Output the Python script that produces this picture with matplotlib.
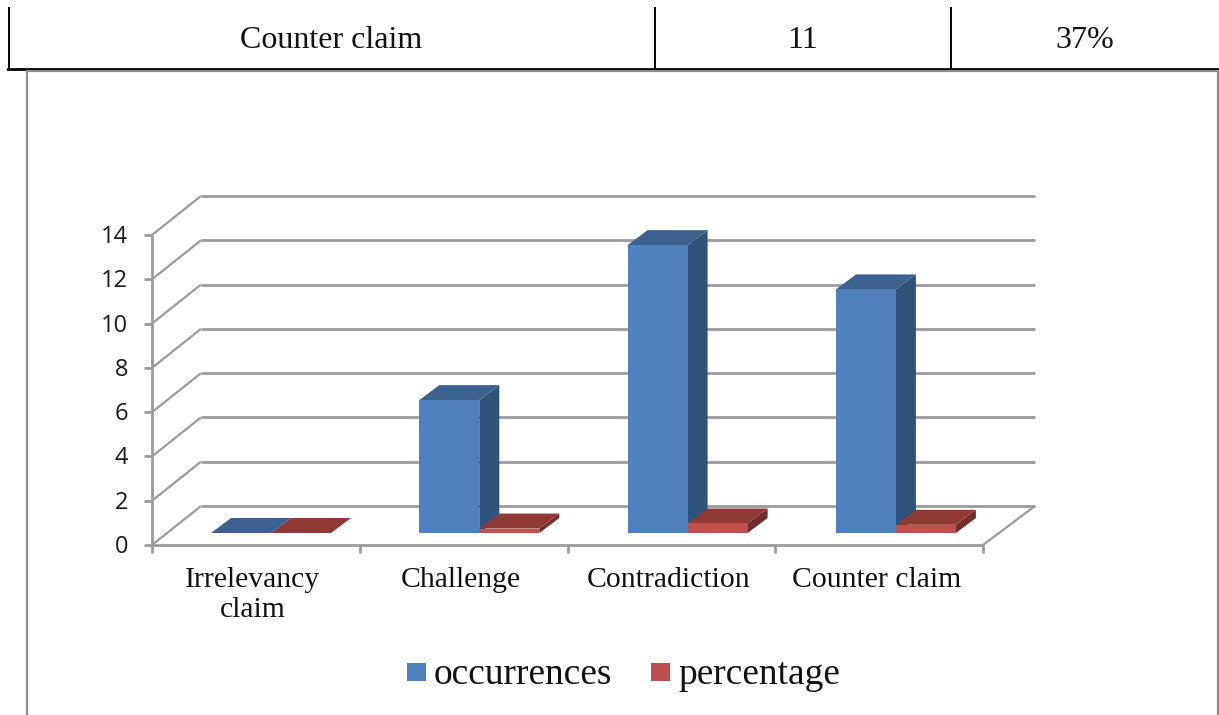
import matplotlib
matplotlib.use("Agg")
import matplotlib.pyplot as plt
from matplotlib.patches import Polygon, Rectangle

categories = ["Irrelevancy\nclaim", "Challenge", "Contradiction", "Counter claim"]
occurrences = [0, 6, 13, 11]
percentage = [0, 0.20, 0.43, 0.37]
y_ticks = [0, 2, 4, 6, 8, 10, 12, 14]
table_cells = ["Counter claim", "11", "37%"]
series_names = ["occurrences", "percentage"]

W, H = 1219, 715
fig = plt.figure(figsize=(W / 100, H / 100), dpi=100, facecolor="white")

# Overlay axes in pixel coordinates for the page furniture
page = fig.add_axes([0, 0, 1, 1])
page.set_xlim(0, W)
page.set_ylim(H, 0)
page.axis("off")

black = "#000000"
page.plot([8, 1219], [68.5, 68.5], color=black, lw=2.0)
for xv in (8.5, 655, 951):
    page.plot([xv, xv], [8, 68.5], color=black, lw=1.4)
for txt, xc in zip(table_cells, (331, 803, 1085)):
    page.text(xc, 40, txt, ha="center", va="center", fontsize=23,
              family="Liberation Serif", color="#111111")

frame = "#8c8c8c"
page.plot([26.5, 26.5], [715, 71], color=frame, lw=1.6)
page.plot([26.5, 1218], [71, 71], color=frame, lw=1.6)
page.plot([1218, 1218], [71, 715], color=frame, lw=1.6)

# Chart axes: x in category units, y in value units
ax = fig.add_axes([152 / W, 1 - 545 / H, (983 - 152) / W, (545 - 235) / H])
ax.set_xlim(0, 4)
ax.set_ylim(0, 14)
ax.axis("off")
ax.patch.set_alpha(0)

ux = 207.75          # pixels per category
uy = 310 / 14        # pixels per value unit


def dx(px):
    return px / ux


def dy(px):
    return px / uy


grid = "#9b9b9b"
kw = dict(color=grid, lw=2.0, clip_on=False, solid_capstyle="butt", zorder=1)
back_x, back_y = dx(49), dy(39)
for v in y_ticks:
    ax.plot([0, back_x], [v, v + back_y], **{**kw, "lw": 1.6})
    ax.plot([back_x, 4 + dx(52)], [v + back_y, v + back_y], **kw)
    ax.plot([-dx(8), 0], [v, v], **kw)
    ax.text(-dx(24), v - dy(2), str(v), ha="right", va="center",
            fontsize=17, family="Open Sans", color="#1a1a1a", clip_on=False)
ax.plot([0, 0], [0, 14], **kw)
ax.plot([0, 4], [0, 0], **kw)
ax.plot([4, 4 + dx(52)], [0, back_y], **{**kw, "lw": 1.6})
for i in range(5):
    ax.plot([i, i], [0, -dy(8)], **kw)

for i, cat in enumerate(categories):
    ax.text(i + 0.5 - dx(3), -dy(22), cat, ha="center", va="top", fontsize=21.4,
            family="Liberation Serif", color="#111111", linespacing=1.22, clip_on=False)

bar_w = dx(60)
depth_x, depth_y = dx(20), dy(15)
base = dy(12)
first = dx(59)
step = dx(208.3)


def draw_bar(x0, v, front, top, side, z):
    x1 = x0 + bar_w
    y0, y1 = base, base + v
    ax.add_patch(Polygon([(x1, y0), (x1 + depth_x, y0 + depth_y),
                          (x1 + depth_x, y1 + depth_y), (x1, y1)],
                         closed=True, fc=side, ec="none", zorder=z, clip_on=False))
    ax.add_patch(Polygon([(x0, y1), (x0 + depth_x, y1 + depth_y),
                          (x1 + depth_x, y1 + depth_y), (x1, y1)],
                         closed=True, fc=top, ec="none", zorder=z, clip_on=False))
    ax.bar(x0, v, width=bar_w, bottom=base, align="edge", color=front,
           zorder=z + 0.1, clip_on=False)


for i, (occ, pct) in enumerate(zip(occurrences, percentage)):
    x0 = first + i * step
    draw_bar(x0, occ, "#4f81bd", "#3c618e", "#315279", 3 + i)
    draw_bar(x0 + bar_w, pct, "#c0504d", "#8f3836", "#6f2c2a", 3.5 + i)

# Legend
for xl, col, name, xt in zip((407, 651), ("#4f81bd", "#c0504d"), series_names, (434, 678)):
    page.add_patch(Rectangle((xl, 663), 19, 18, fc=col, ec="none"))
    page.text(xt, 675, name, ha="left", va="center", fontsize=26.9,
              family="Liberation Serif", color="#111111")

fig.savefig("out.png", dpi=100, facecolor="white")
